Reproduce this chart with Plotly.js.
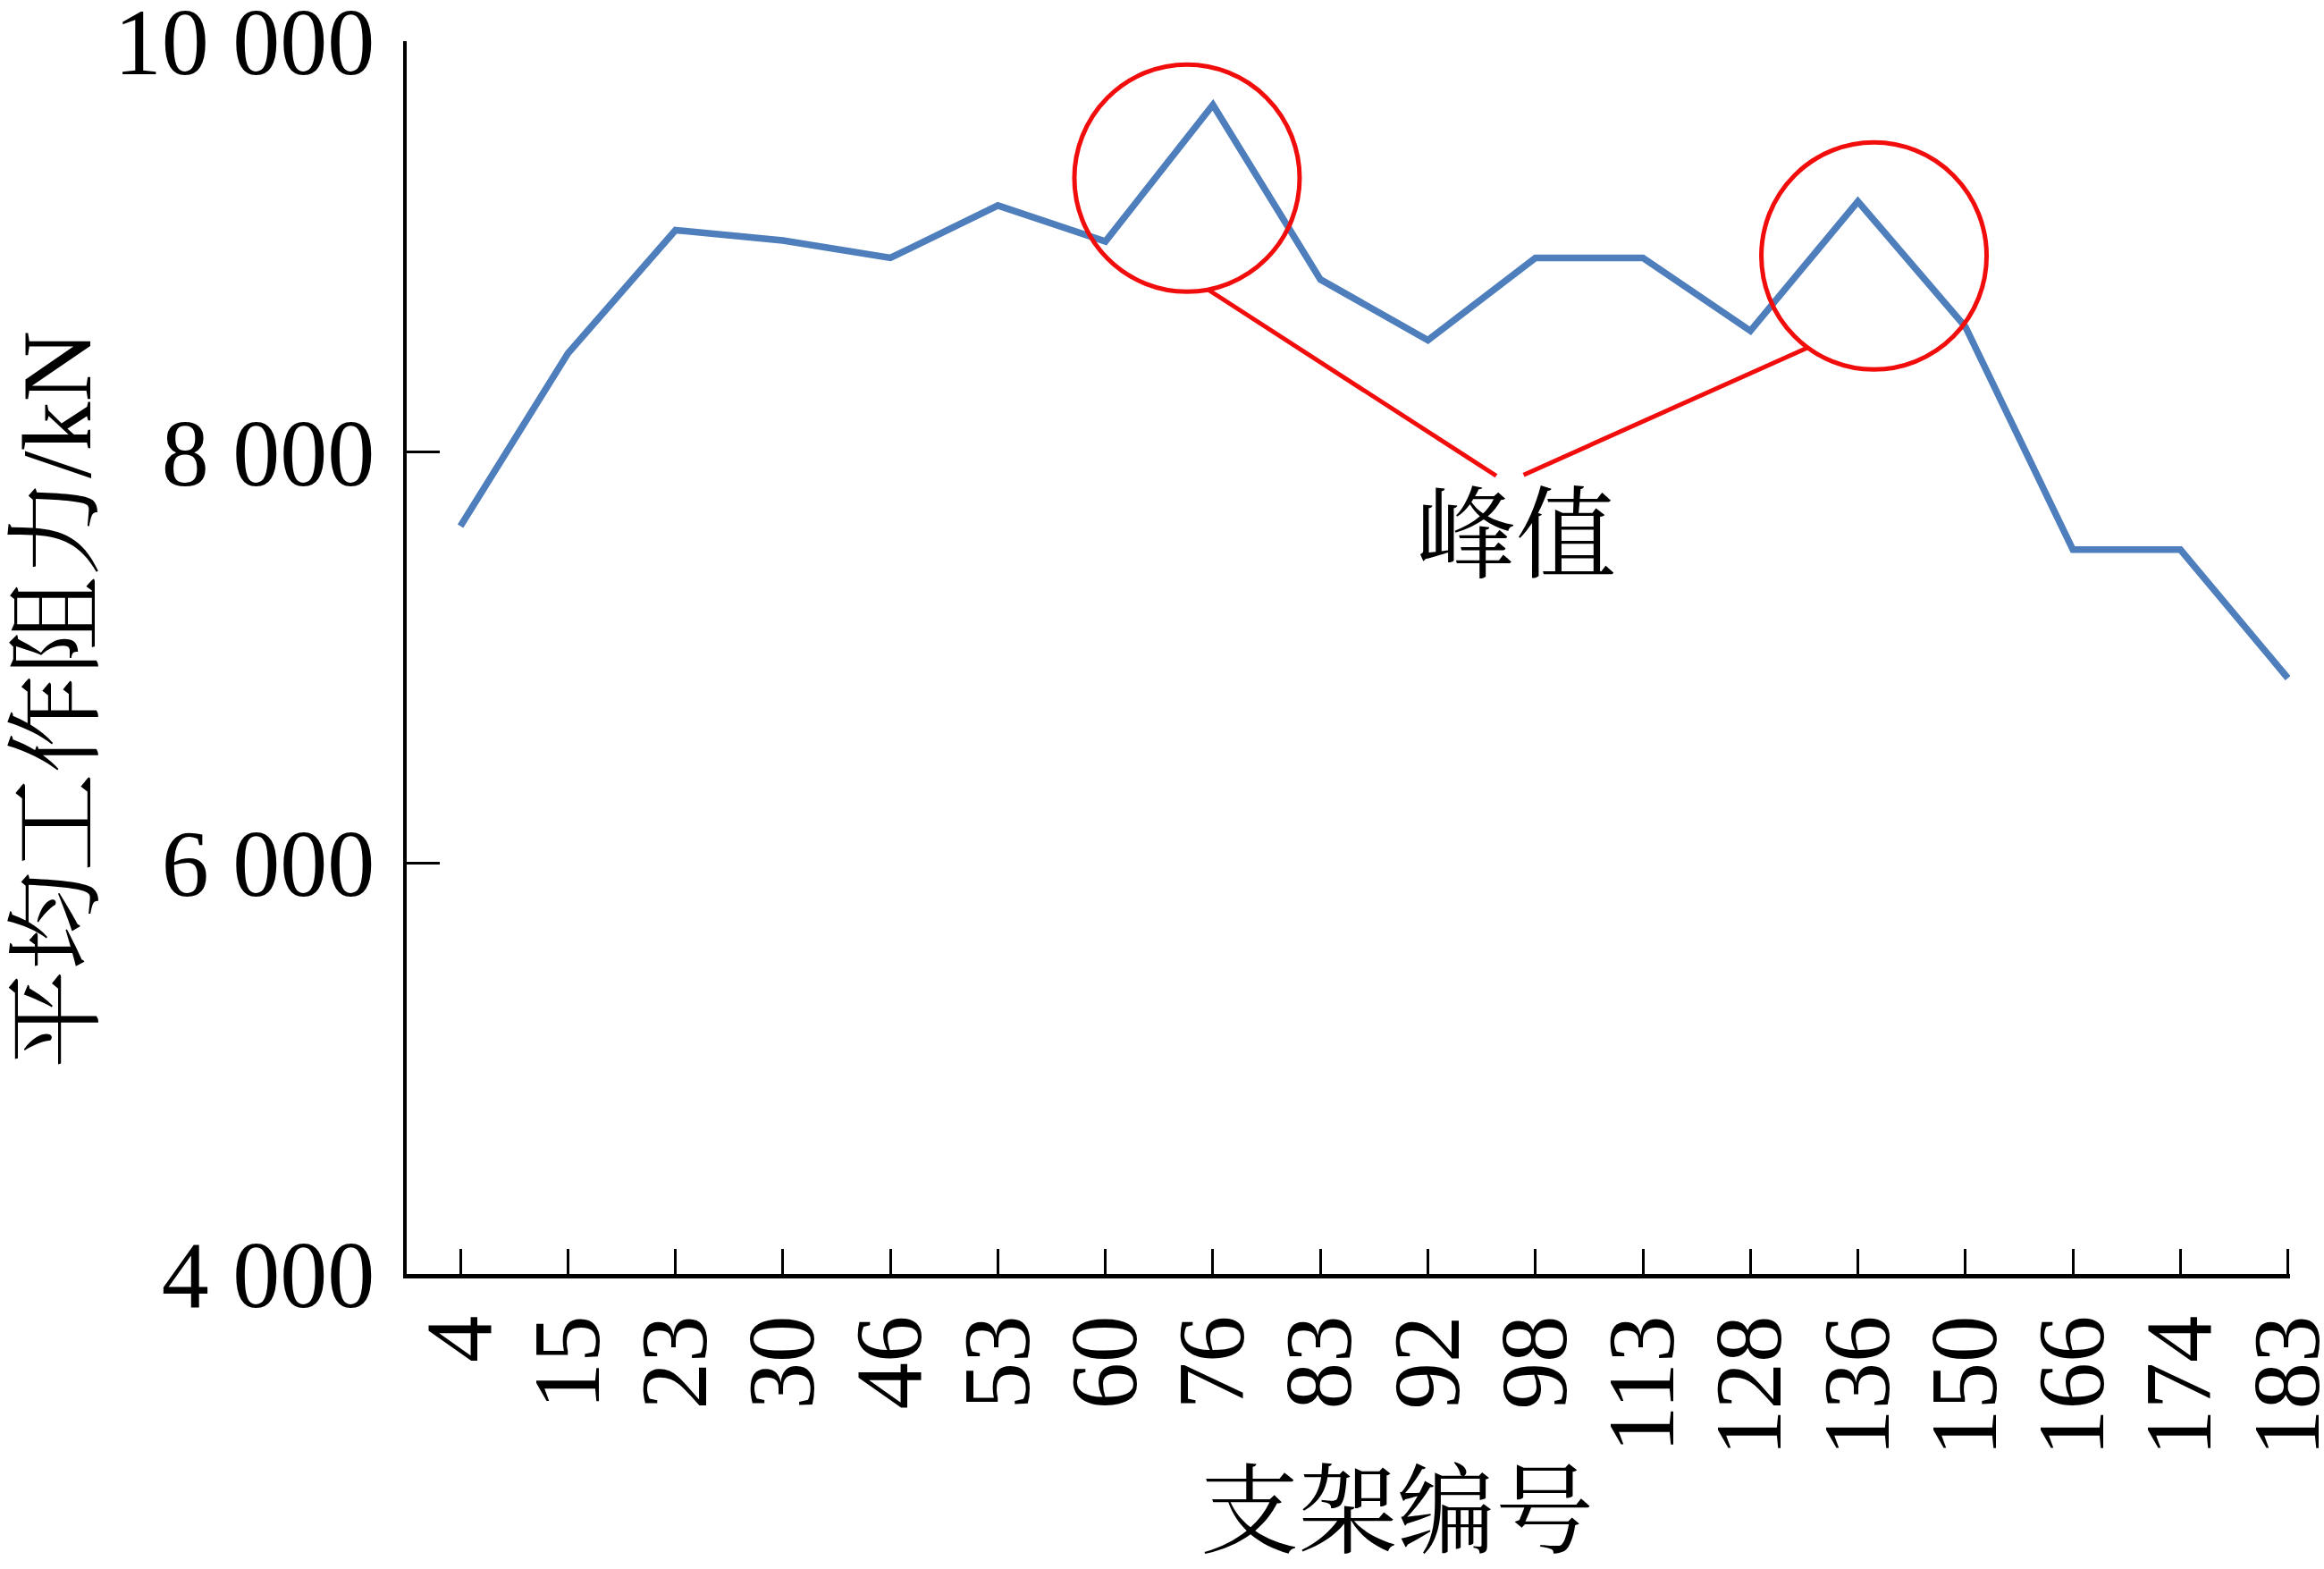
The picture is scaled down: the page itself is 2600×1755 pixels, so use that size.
<!DOCTYPE html>
<html>
<head>
<meta charset="utf-8">
<script src="https://cdn.plot.ly/plotly-3.0.1.min.js"></script>
<style>
  html, body { margin: 0; padding: 0; background: #ffffff; }
  #chart { width: 2600px; height: 1755px; }
</style>
</head>
<body>
<div id="chart"></div>
<script>
// ---- data ----
const supportIds = ['4','15','23','30','46','53','60','76','83','92','98','113','128','136','150','166','174','183'];
const avgResistance = [7640, 8480, 9080, 9030, 8945, 9200, 9025, 9690, 8840, 8545, 8945, 8945, 8590, 9220, 8610, 7525, 7525, 6900];
const yTickValues = [4000, 6000, 8000, 10000];
const peakIds = ['76', '136'];
const peakLabel = '峰值';
const xTitle = '支架编号';
const yTitle = '平均工作阻力/kN';

const xIndex = supportIds.map((_, i) => i);
const p1 = supportIds.indexOf(peakIds[0]);
const p2 = supportIds.indexOf(peakIds[1]);

const serif = '"Liberation Serif", "Times New Roman", "Noto Serif CJK SC", "Noto Sans CJK SC", serif';
const red = '#f20d0d';
const blue = '#4f7ebc';

// plot-area geometry (pixels)
const plotL = 455, plotR = 2562, plotT = 46, plotB = 1425;
const px = (x) => (x - plotL) / (plotR - plotL);
const py = (y) => (plotB - y) / (plotB - plotT);

const trace = {
  type: 'scatter',
  mode: 'lines',
  x: xIndex,
  y: avgResistance,
  line: { color: blue, width: 7.5 },
  hoverinfo: 'x+y'
};

function circle(anchorIdx, dx0, dx1, dy0, dy1) {
  return {
    type: 'circle', xref: 'x', yref: 'y',
    xsizemode: 'pixel', ysizemode: 'pixel',
    xanchor: anchorIdx, yanchor: avgResistance[anchorIdx],
    x0: dx0, x1: dx1, y0: dy0, y1: dy1,
    line: { color: red, width: 5 }
  };
}
function leader(anchorIdx, dx0, dy0, dx1, dy1) {
  return {
    type: 'line', xref: 'x', yref: 'y',
    xsizemode: 'pixel', ysizemode: 'pixel',
    xanchor: anchorIdx, yanchor: avgResistance[anchorIdx],
    x0: dx0, y0: dy0, x1: dx1, y1: dy1,
    line: { color: red, width: 5 }
  };
}

const layout = {
  width: 2600,
  height: 1755,
  margin: { l: plotL, r: 2600 - plotR, t: plotT, b: 1755 - plotB, pad: 0 },
  paper_bgcolor: '#ffffff',
  plot_bgcolor: '#ffffff',
  showlegend: false,
  separators: '. ',
  font: { family: serif, color: '#000000' },
  xaxis: {
    range: [-0.5, 17.02],
    tickmode: 'array',
    tickvals: xIndex,
    ticktext: supportIds,
    tickangle: -90,
    ticks: 'inside',
    ticklen: 28,
    tickwidth: 3,
    tickcolor: '#000000',
    ticklabelstandoff: 0,
    ticklabeloverflow: 'allow',
    showline: true,
    linecolor: '#000000',
    linewidth: 4.5,
    showgrid: false,
    zeroline: false,
    tickfont: { family: serif, size: 105, color: '#000000' }
  },
  yaxis: {
    range: [4000, 10000],
    tickmode: 'array',
    tickvals: yTickValues,
    tickformat: ',d',
    separatethousands: true,
    ticks: 'inside',
    ticklen: 37,
    tickwidth: 3,
    tickcolor: '#000000',
    ticklabelstandoff: 10,
    ticklabeloverflow: 'allow',
    showline: true,
    linecolor: '#000000',
    linewidth: 4.5,
    showgrid: false,
    zeroline: false,
    tickfont: { family: serif, size: 106, color: '#000000' }
  },
  shapes: [
    circle(p1, -155, 97, -209, 45),
    circle(p2, -108, 144, -188, 66),
    leader(p1, -5, -207, 317, -415),
    leader(p2, -374, -306, -57, -164)
  ],
  annotations: [
    {
      text: peakLabel,
      xref: 'paper', yref: 'paper',
      x: px(1696), y: py(600),
      xanchor: 'center', yanchor: 'middle',
      showarrow: false,
      font: { family: serif, size: 112, color: '#000000' }
    },
    {
      // x-axis title
      text: xTitle,
      xref: 'paper', yref: 'paper',
      x: px(1563), y: py(1692),
      xanchor: 'center', yanchor: 'middle',
      showarrow: false,
      font: { family: serif, size: 110, color: '#000000' }
    },
    {
      // y-axis title
      text: yTitle,
      textangle: -90,
      xref: 'paper', yref: 'paper',
      x: px(64), y: py(783),
      xanchor: 'center', yanchor: 'middle',
      showarrow: false,
      font: { family: serif, size: 110, color: '#000000' }
    }
  ]
};

Plotly.newPlot('chart', [trace], layout, { staticPlot: true, displayModeBar: false });
</script>
</body>
</html>
